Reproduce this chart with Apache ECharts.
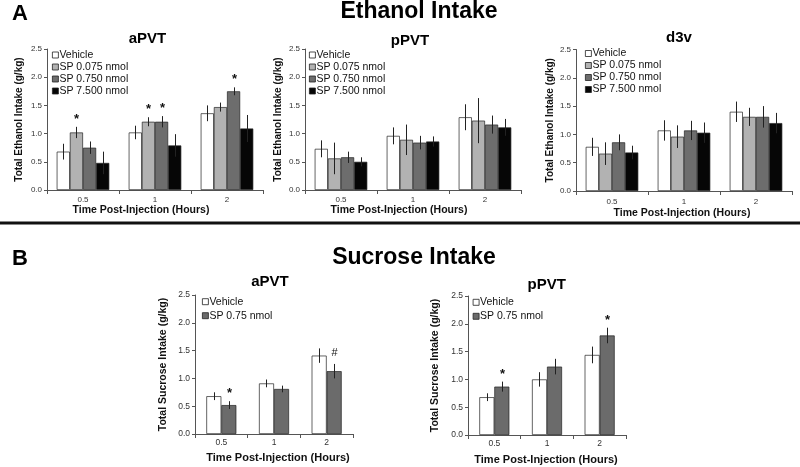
<!DOCTYPE html>
<html><head><meta charset="utf-8">
<script src="https://cdn.jsdelivr.net/npm/echarts@6/dist/echarts.min.js"></script>
<style>html,body{margin:0;padding:0;background:#fff}#c{width:800px;height:467px}</style>
</head><body><div id="c"></div><script>
// ---------- DATA ----------
const hours = ['0.5', '1', '2'];
const ethanolGroups = ['Vehicle', 'SP 0.075 nmol', 'SP 0.750 nmol', 'SP 7.500 nmol'];
const sucroseGroups = ['Vehicle', 'SP 0.75 nmol'];

// Ethanol intake, aPVT
const etA_vehicle = [0.68, 1.02, 1.36], etA_vehicleErr = [0.14, 0.12, 0.14];
const etA_sp075 = [1.02, 1.21, 1.47], etA_sp075Err = [0.10, 0.08, 0.08];
const etA_sp750 = [0.75, 1.21, 1.75], etA_sp750Err = [0.11, 0.10, 0.07];
const etA_sp7500 = [0.48, 0.79, 1.09], etA_sp7500Err = [0.20, 0.20, 0.24];
const etA_marks = [[0, 1, '*'], [1, 1, '*'], [1, 2, '*'], [2, 2, '*']];

// Ethanol intake, pPVT
const etP_vehicle = [0.73, 0.96, 1.29], etP_vehicleErr = [0.15, 0.15, 0.23];
const etP_sp075 = [0.56, 0.89, 1.23], etP_sp075Err = [0.28, 0.27, 0.40];
const etP_sp750 = [0.58, 0.84, 1.16], etP_sp750Err = [0.10, 0.12, 0.16];
const etP_sp7500 = [0.50, 0.86, 1.11], etP_sp7500Err = [0.08, 0.09, 0.15];
const etP_marks = [];

// Ethanol intake, d3v
const etD_vehicle = [0.78, 1.07, 1.40], etD_vehicleErr = [0.16, 0.18, 0.18];
const etD_sp075 = [0.66, 0.96, 1.31], etD_sp075Err = [0.20, 0.20, 0.16];
const etD_sp750 = [0.86, 1.07, 1.31], etD_sp750Err = [0.14, 0.17, 0.19];
const etD_sp7500 = [0.68, 1.03, 1.20], etD_sp7500Err = [0.12, 0.18, 0.18];
const etD_marks = [];

// Sucrose intake, aPVT
const suA_vehicle = [0.68, 0.91, 1.41], suA_vehicleErr = [0.07, 0.07, 0.13];
const suA_sp = [0.52, 0.81, 1.13], suA_spErr = [0.07, 0.06, 0.13];
const suA_marks = [[0, 1, '*'], [2, 1, '#']];

// Sucrose intake, pPVT
const suP_vehicle = [0.68, 1.00, 1.44], suP_vehicleErr = [0.07, 0.13, 0.15];
const suP_sp = [0.87, 1.23, 1.79], suP_spErr = [0.09, 0.14, 0.14];
const suP_marks = [[0, 1, '*'], [2, 1, '*']];

// ---------- STYLE / LAYOUT ----------
const FONT = "'Liberation Sans', Arial, sans-serif";
const ethColors = ['#ffffff', '#b2b2b2', '#6d6d6d', '#060606'];
const sucColors = ['#ffffff', '#6b6b6b'];
const X_NAME = 'Time Post-Injection (Hours)';

const panels = [
  { grid: {left: 47, top: 49, width: 216, height: 141}, names: ethanolGroups, colors: ethColors,
    values: [etA_vehicle, etA_sp075, etA_sp750, etA_sp7500], errors: [etA_vehicleErr, etA_sp075Err, etA_sp750Err, etA_sp7500Err],
    marks: etA_marks, gap: 0.27, yName: 'Total Ethanol Intake (g/kg)', yNameGap: 23, yNameSize: 10,
    xNameGap: 14, xNameSize: 10.5, xShift: -14, tickSize: 8, xLabelMargin: 6,
    legend: {left: 52, top: 49, lh: 12} },
  { grid: {left: 305, top: 49, width: 216, height: 141}, names: ethanolGroups, colors: ethColors,
    values: [etP_vehicle, etP_sp075, etP_sp750, etP_sp7500], errors: [etP_vehicleErr, etP_sp075Err, etP_sp750Err, etP_sp7500Err],
    marks: etP_marks, gap: 0.27, yName: 'Total Ethanol Intake (g/kg)', yNameGap: 21.5, yNameSize: 10,
    xNameGap: 14, xNameSize: 10.5, xShift: -14, tickSize: 8, xLabelMargin: 6,
    legend: {left: 309, top: 49, lh: 12} },
  { grid: {left: 576, top: 49.5, width: 216, height: 141.5}, names: ethanolGroups, colors: ethColors,
    values: [etD_vehicle, etD_sp075, etD_sp750, etD_sp7500], errors: [etD_vehicleErr, etD_sp075Err, etD_sp750Err, etD_sp7500Err],
    marks: etD_marks, gap: 0.27, yName: 'Total Ethanol Intake (g/kg)', yNameGap: 20.5, yNameSize: 10,
    xNameGap: 17, xNameSize: 10.5, xShift: -2, tickSize: 8, xLabelMargin: 7,
    legend: {left: 585, top: 47.5, lh: 12} },
  { grid: {left: 195, top: 295, width: 158, height: 139}, names: sucroseGroups, colors: sucColors,
    values: [suA_vehicle, suA_sp], errors: [suA_vehicleErr, suA_spErr],
    marks: suA_marks, gap: 0.43, yName: 'Total Sucrose Intake (g/kg)', yNameGap: 26.5, yNameSize: 10.5,
    xNameGap: 18.5, xNameSize: 11, xShift: 4, tickSize: 8.5, xLabelMargin: 4,
    legend: {left: 202, top: 294.7, lh: 14} },
  { grid: {left: 468, top: 296, width: 158, height: 139}, names: sucroseGroups, colors: sucColors,
    values: [suP_vehicle, suP_sp], errors: [suP_vehicleErr, suP_spErr],
    marks: suP_marks, gap: 0.43, yName: 'Total Sucrose Intake (g/kg)', yNameGap: 27.5, yNameSize: 10.5,
    xNameGap: 19, xNameSize: 11, xShift: -1, tickSize: 8.5, xLabelMargin: 4,
    legend: {left: 472.7, top: 295.3, lh: 14} }
];

const option = {
  animation: false, backgroundColor: '#fff',
  grid: [], xAxis: [], yAxis: [], series: [], legend: [], graphic: []
};
const axisColor = '#555';

panels.forEach((p, i) => {
  option.grid.push(Object.assign({}, p.grid));
  const pad = p.xShift < 0 ? [0, -2 * p.xShift, 0, 0] : [0, 0, 0, 2 * p.xShift];
  option.xAxis.push({
    type: 'category', gridIndex: i, data: hours,
    name: X_NAME, nameLocation: 'middle', nameGap: p.xNameGap,
    nameTextStyle: {fontFamily: FONT, fontWeight: 'bold', fontSize: p.xNameSize, color: '#111', padding: pad},
    axisLine: {lineStyle: {color: axisColor, width: 1}},
    axisTick: {show: true, length: 4, lineStyle: {color: axisColor}},
    axisLabel: {fontFamily: FONT, fontSize: p.tickSize, color: '#333', margin: p.xLabelMargin},
    splitLine: {show: false}
  });
  option.yAxis.push({
    type: 'value', gridIndex: i, min: 0, max: 2.5, interval: 0.5,
    name: p.yName, nameLocation: 'middle', nameGap: p.yNameGap,
    nameTextStyle: {fontFamily: FONT, fontWeight: 'bold', fontSize: p.yNameSize, color: '#111'},
    axisLine: {show: true, lineStyle: {color: axisColor, width: 1}},
    axisTick: {show: true, length: 3, lineStyle: {color: axisColor}},
    axisLabel: {fontFamily: FONT, fontSize: p.tickSize, color: '#333', margin: 5, formatter: v => v.toFixed(1)},
    splitLine: {show: false}
  });
  const n = p.names.length;
  p.names.forEach((nm, si) => {
    option.series.push({
      type: 'bar', name: nm, xAxisIndex: i, yAxisIndex: i, data: p.values[si],
      barGap: '0%', barCategoryGap: (p.gap * 100) + '%',
      itemStyle: {color: p.colors[si], borderColor: '#222', borderWidth: 0.7},
      emphasis: {disabled: true}, z: 2
    });
  });
  // error bars + significance marks
  const errData = [];
  const markMap = {};
  p.marks.forEach(m => { markMap[m[0] + '_' + m[1]] = m[2]; });
  p.names.forEach((nm, si) => {
    p.values[si].forEach((v, ci) => errData.push([ci, si, v, p.errors[si][ci]]));
  });
  const gap = p.gap;
  option.series.push({
    type: 'custom', xAxisIndex: i, yAxisIndex: i, z: 5, silent: true, clip: false,
    encode: {x: 0, y: 2},
    data: errData,
    renderItem: (params, api) => {
      const ci = api.value(0), si = api.value(1), v = api.value(2), e = api.value(3);
      const c = api.coord([ci, v]);
      const cw = api.size([1, 0])[0];
      const bw = cw * (1 - gap) / n;
      const x = Math.round(c[0] + (si - (n - 1) / 2) * bw) + 0.5;
      const yt = api.coord([ci, v + e])[1];
      const yb = api.coord([ci, v - e])[1];
      const children = [{
        type: 'line', shape: {x1: x, y1: yt, x2: x, y2: yb},
        style: {stroke: '#222', lineWidth: 1}
      }];
      const mk = markMap[ci + '_' + si];
      if (mk) {
        children.push({
          type: 'text',
          style: {
            text: mk, x: x, y: mk === '#' ? yt - 5 : yt - 1, align: 'center', verticalAlign: 'bottom',
            fontFamily: FONT, fontSize: mk === '#' ? 11 : 13, fontWeight: mk === '#' ? 'normal' : 'bold', fill: '#111'
          }
        });
      }
      return {type: 'group', children: children};
    }
  });
  option.legend.push({
    orient: 'vertical', left: p.legend.left, top: p.legend.top, padding: 0,
    itemWidth: 6, itemHeight: 6, itemGap: 0, icon: 'rect', selectedMode: false,
    data: p.names,
    itemStyle: {borderColor: '#222', borderWidth: 0.8},
    textStyle: {fontFamily: FONT, fontSize: 10.5, color: '#111', lineHeight: p.legend.lh, padding: [0, 0, 0, -4]}
  });
});

// titles
const titleTexts = [
  ['A', 12, 14, 22, 'left'],
  ['Ethanol Intake', 419, 12, 23, 'center'],
  ['B', 12, 258.5, 22, 'left'],
  ['Sucrose Intake', 414, 257.5, 23, 'center'],
  ['aPVT', 147.5, 39, 15, 'center'],
  ['pPVT', 410, 41, 15, 'center'],
  ['d3v', 679, 37.5, 15, 'center'],
  ['aPVT', 270, 281.5, 15, 'center'],
  ['pPVT', 546.7, 284.5, 15, 'center']
];
titleTexts.forEach(t => {
  option.graphic.push({
    type: 'text', x: t[1], y: t[2], silent: true,
    style: {text: t[0], align: t[4], verticalAlign: 'middle', fontFamily: FONT, fontWeight: 'bold', fontSize: t[3], fill: '#000'}
  });
});
// separator line between panels A and B
option.graphic.push({type: 'rect', x: 0, y: 221.5, shape: {width: 800, height: 3}, style: {fill: '#111'}, silent: true});

const chart = echarts.init(document.getElementById('c'), null, {renderer: 'canvas'});
chart.setOption(option);
</script></body></html>
